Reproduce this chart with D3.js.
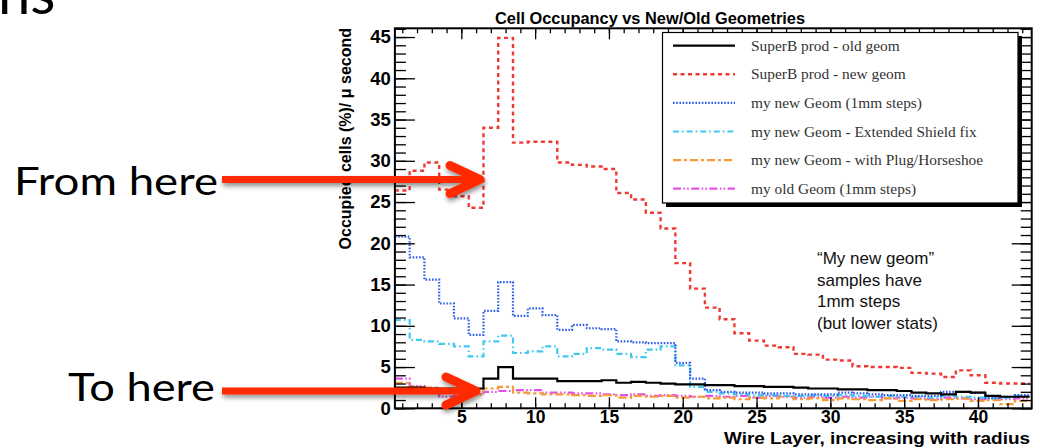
<!DOCTYPE html>
<html><head><meta charset="utf-8">
<script src="https://cdn.jsdelivr.net/npm/d3@7"></script>
<style>body{margin:0;background:#fff;overflow:hidden} svg{display:block}</style>
</head><body>
<svg id="c" width="1040" height="448"></svg>
<script>
// ---- data ----
const layers = [1,2,3,4,5,6,7,8,9,10,11,12,13,14,15,16,17,18,19,20,21,22,23,24,25,26,27,28,29,30,31,32,33,34,35,36,37,38,39,40,41,42,43];
const prodOldGeom = [2.5,2.5,2.4,2.4,2.4,2.4,3.6,5.0,3.6,3.6,3.6,3.3,3.3,3.3,3.4,3.1,3.2,3.1,3.0,2.9,2.9,2.8,2.8,2.7,2.7,2.6,2.6,2.5,2.4,2.4,2.3,2.3,2.2,2.2,2.1,1.9,1.8,1.7,2.0,1.9,1.5,1.4,1.4];
const prodNewGeom = [26.4,28.8,29.8,26.5,25.7,24.3,34.0,44.9,32.2,32.3,32.3,29.8,29.5,29.3,29.0,26.1,25.3,23.7,21.8,17.6,14.5,12.2,10.8,9.1,8.2,7.6,7.4,6.6,6.5,5.9,5.8,5.1,5.0,5.0,4.9,4.3,4.2,3.8,4.6,4.0,3.1,3.0,3.0];
const myNew1mm = [20.8,18.3,15.6,12.7,10.9,8.9,11.8,15.3,11.2,12.1,11.3,9.5,10.1,9.7,9.6,8.1,8.0,7.9,7.9,5.5,3.6,2.2,2.0,1.9,1.9,1.8,1.8,1.7,1.7,1.7,1.9,1.8,1.7,1.6,1.6,1.5,1.5,2.0,2.0,1.9,1.3,1.4,1.6];
const myNewShield = [10.7,8.3,8.1,7.8,7.5,6.3,8.1,8.8,6.7,6.9,7.5,6.3,6.6,7.3,7.1,6.6,6.2,7.1,7.5,5.2,2.6,2.0,1.8,1.7,1.6,1.6,1.5,1.5,1.6,1.5,1.6,1.5,1.4,1.5,1.4,1.4,1.3,1.5,1.4,1.3,1.2,1.3,1.5];
const myNewPlug = [3.1,2.6,2.5,2.0,1.9,1.7,2.4,2.6,1.9,1.8,1.7,1.7,1.6,1.5,1.6,1.3,1.5,1.4,1.5,1.3,1.4,1.2,1.3,1.1,1.3,1.2,1.4,1.1,1.2,1.0,1.2,1.1,1.0,1.2,0.9,1.1,1.0,1.1,1.2,0.9,1.0,0.5,0.9];
const myOld1mm = [3.6,2.7,2.2,1.4,1.5,1.7,2.0,2.1,2.2,2.2,1.9,1.9,1.8,1.8,1.7,1.6,1.7,1.5,1.6,1.5,1.4,1.5,1.4,1.5,1.3,1.5,1.4,1.3,1.4,1.3,1.4,1.3,1.4,1.2,1.3,1.2,1.1,1.3,1.2,1.1,1.2,1.1,1.2];
const seriesNames = ["SuperB prod - old geom","SuperB prod - new geom","my new Geom (1mm steps)","my new Geom - Extended Shield fix","my new Geom - with Plug/Horseshoe","my old Geom (1mm steps)"];
const xMajorTicks = [5,10,15,20,25,30,35,40];
const yMajorTicks = [0,5,10,15,20,25,30,35,40,45];
const title = "Cell Occupancy vs New/Old Geometries";
const xTitle = "Wire Layer, increasing with radius";
const yTitle = "Occupied cells (%)/ \u03bc second";
const noteLines = ["\u201cMy new geom\u201d","samples have","1mm steps","(but lower stats)"];

// ---- layout ----
const svg = d3.select("#c");
const L = 394.9, R = 1031.7, T = 28.3, B = 408.3;
const x = d3.scaleLinear().domain([0.5, 43.64]).range([L, R]);
const y = d3.scaleLinear().domain([0, 46.06]).range([B, T]);

const styles = [
  {data: prodOldGeom, color: "#000000", dash: null, w: 2.2},
  {data: prodNewGeom, color: "#ee3a33", dash: "4,3.5", w: 2.4},
  {data: myNew1mm, color: "#2f5ee8", dash: "1.6,1.6", w: 2.2},
  {data: myNewShield, color: "#3fc8f0", dash: "6,3,1.6,3", w: 2.2},
  {data: myNewPlug, color: "#f59a35", dash: "8,3,3,3", w: 2.2},
  {data: myOld1mm, color: "#e650e6", dash: "8,2.5,1.6,2,1.6,2.5", w: 2.2}
];

svg.append("defs").append("clipPath").attr("id","clip")
  .append("rect").attr("x",L).attr("y",T).attr("width",R-L).attr("height",B-T);

const stepLine = d3.line().x(d=>x(d[0])).y(d=>y(d[1])).curve(d3.curveStepAfter);
const g = svg.append("g").attr("clip-path","url(#clip)");
[5,4,3,2,1,0].forEach(k=>{
  const s = styles[k];
  const pts = layers.map((l,i)=>[l-0.5, s.data[i]]);
  pts.push([layers[layers.length-1]+0.5, s.data[s.data.length-1]]);
  g.append("path").attr("d", stepLine(pts)).attr("fill","none")
   .attr("stroke", s.color).attr("stroke-width", s.w)
   .attr("stroke-dasharray", s.dash);
});

// ---- axes (ticks inside, all four sides) ----
const minorX = layers;
const minorY = d3.range(0, 47, 1);
const font = "'Liberation Sans', Arial, sans-serif";
function styleAxis(sel){ sel.select(".domain").remove(); sel.selectAll("line").attr("stroke","#000").attr("stroke-width",1.3); }
svg.append("g").attr("transform",`translate(0,${B})`)
  .call(d3.axisBottom(x).tickValues(minorX).tickSize(-5).tickFormat("")).call(styleAxis);
svg.append("g").attr("transform",`translate(0,${B})`)
  .call(d3.axisBottom(x).tickValues(xMajorTicks).tickSize(-11).tickPadding(2.5).tickFormat(d3.format("d")))
  .call(styleAxis)
  .selectAll("text").attr("font-family",font).attr("font-weight","bold").attr("font-size",17.5).attr("fill","#000");
svg.append("g").attr("transform",`translate(0,${T})`)
  .call(d3.axisTop(x).tickValues(minorX).tickSize(-5).tickFormat("")).call(styleAxis);
svg.append("g").attr("transform",`translate(0,${T})`)
  .call(d3.axisTop(x).tickValues(xMajorTicks).tickSize(-11).tickFormat("")).call(styleAxis);
svg.append("g").attr("transform",`translate(${L},0)`)
  .call(d3.axisLeft(y).tickValues(minorY).tickSize(-11).tickFormat("")).call(styleAxis);
svg.append("g").attr("transform",`translate(${L},0)`)
  .call(d3.axisLeft(y).tickValues(yMajorTicks).tickSize(-20).tickPadding(4).tickFormat(d3.format("d")))
  .call(styleAxis)
  .selectAll("text").attr("font-family",font).attr("font-weight","bold").attr("font-size",18.5).attr("fill","#000");
svg.append("g").attr("transform",`translate(${R},0)`)
  .call(d3.axisRight(y).tickValues(minorY).tickSize(-11).tickFormat("")).call(styleAxis);
svg.append("g").attr("transform",`translate(${R},0)`)
  .call(d3.axisRight(y).tickValues(yMajorTicks).tickSize(-20).tickFormat("")).call(styleAxis);

svg.append("rect").attr("x",L).attr("y",T).attr("width",R-L).attr("height",B-T)
  .attr("fill","none").attr("stroke","#000").attr("stroke-width",2);

// ---- titles ----
svg.append("text").attr("x",650).attr("y",23.5).attr("text-anchor","middle")
  .attr("font-family",font).attr("font-weight","bold").attr("font-size",16.5)
  .attr("textLength",310).attr("lengthAdjust","spacingAndGlyphs").text(title);
svg.append("text").attr("x",1030).attr("y",444).attr("text-anchor","end")
  .attr("font-family",font).attr("font-weight","bold").attr("font-size",16)
  .attr("textLength",306).attr("lengthAdjust","spacingAndGlyphs").text(xTitle);
svg.append("text").attr("transform","translate(351,28) rotate(-90)").attr("text-anchor","end")
  .attr("font-family",font).attr("font-weight","bold").attr("font-size",16).text(yTitle);

// ---- legend ----
const lg = svg.append("g");
lg.append("rect").attr("x",666).attr("y",36).attr("width",356).attr("height",171).attr("fill","#000");
lg.append("rect").attr("x",662.5).attr("y",32.5).attr("width",355.5).attr("height",170.5)
  .attr("fill","#fff").attr("stroke","#000").attr("stroke-width",1.2);
seriesNames.forEach((n,i)=>{
  const yy = 45.7 + i*28.6;
  const s = styles[i];
  lg.append("line").attr("x1",673).attr("x2",735).attr("y1",yy).attr("y2",yy)
    .attr("stroke",s.color).attr("stroke-width",s.w).attr("stroke-dasharray",s.dash);
  lg.append("text").attr("x",751).attr("y",yy+5).attr("font-family","'Liberation Serif', 'Times New Roman', serif")
    .attr("font-size",15.4).attr("fill","#333").text(n);
});

// ---- note ----
noteLines.forEach((t,i)=>{
  svg.append("text").attr("x",817).attr("y",264+i*21.7).attr("font-family",font)
    .attr("font-size",17).attr("fill","#111").text(t);
});

// ---- slide overlay: title fragment, annotations and arrows ----
const sfont = "Lato, 'Open Sans', sans-serif";
svg.append("text").attr("x",-2).attr("y",14).attr("font-family",sfont).attr("font-size",58)
  .attr("fill","#000").text("ns");
svg.append("text").attr("x",14).attr("y",195).attr("font-family",sfont).attr("font-size",38)
  .attr("textLength",204).attr("lengthAdjust","spacingAndGlyphs").attr("fill","#000").text("From here");
svg.append("text").attr("x",68).attr("y",401).attr("font-family",sfont).attr("font-size",38)
  .attr("textLength",147).attr("lengthAdjust","spacingAndGlyphs").attr("fill","#000").text("To here");

const defs = svg.select("defs");
const f = defs.append("filter").attr("id","sh").attr("x","-10%").attr("y","-50%").attr("width","120%").attr("height","200%");
f.append("feDropShadow").attr("dx",1).attr("dy",3).attr("stdDeviation",2.5).attr("flood-color","#000").attr("flood-opacity",0.45);
function arrow(x0, x1, yy){
  const a = svg.append("g").attr("filter","url(#sh)");
  a.append("line").attr("x1",x0).attr("x2",x1-4).attr("y1",yy).attr("y2",yy)
   .attr("stroke","#ff2a00").attr("stroke-width",7);
  a.append("path").attr("d",`M${x1-30},${yy-14}L${x1},${yy}L${x1-30},${yy+14}`)
   .attr("fill","none").attr("stroke","#ff2a00").attr("stroke-width",9)
   .attr("stroke-linecap","round").attr("stroke-linejoin","round");
}
arrow(222, 480, 179.5);
arrow(222, 476, 391);
</script>
</body></html>
